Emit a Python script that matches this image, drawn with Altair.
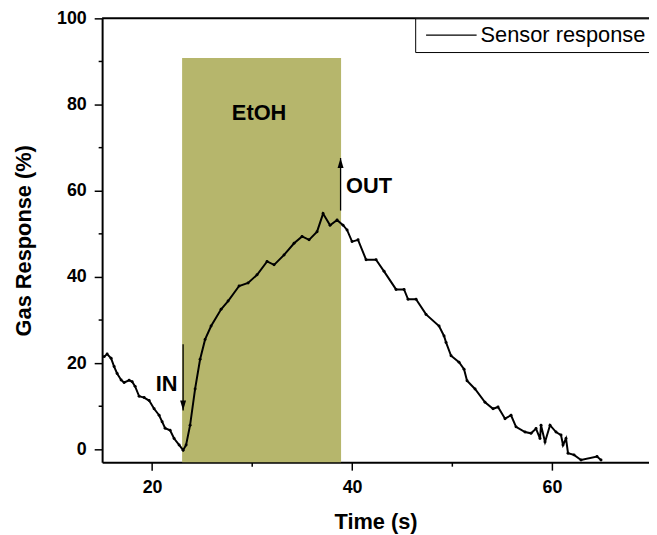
import altair as alt
import pandas as pd

# ---- data ----
time_s = [15.2, 15.5, 15.9, 16.2, 16.5, 16.9, 17.2, 17.7, 18.0, 18.3, 18.7, 19.2, 19.7, 20.2,
          20.7, 21.0, 21.3, 21.8, 22.2, 22.7, 23.1, 23.4, 23.8, 24.3, 24.8, 25.3, 25.9, 26.9,
          27.6, 28.7, 29.6, 30.5, 31.5, 32.2, 33.2, 34.2, 35.0, 35.7, 36.5, 37.1, 37.8, 38.5,
          39.1, 39.5, 40.0, 40.6, 41.4, 42.4, 43.2, 44.4, 45.2, 45.6, 46.4, 47.4, 48.7, 49.2,
          49.4, 49.9, 50.7, 51.2, 51.5, 52.3, 53.3, 54.1, 54.6, 55.3, 55.9, 56.4, 57.3, 57.9,
          58.4, 58.8, 58.9, 59.3, 59.8, 60.4, 60.9, 61.1, 61.4, 61.6, 62.2, 62.9, 64.5, 64.9]
response = [21.5, 22.1, 21.1, 19.2, 17.6, 16.1, 15.5, 16.0, 15.7, 14.6, 12.3, 12.0, 11.3, 9.4,
            7.9, 6.4, 4.9, 4.4, 2.5, 1.0, -0.2, 1.0, 5.6, 14.0, 20.9, 25.5, 28.6, 32.5,
            34.4, 37.9, 38.6, 40.5, 43.6, 42.8, 45.1, 47.8, 49.4, 48.6, 50.5, 54.7, 52.0, 53.2,
            52.0, 50.9, 48.2, 48.6, 44.0, 44.0, 41.3, 37.1, 37.1, 34.8, 34.8, 31.3, 28.6, 26.3,
            24.8, 21.7, 20.2, 18.6, 15.9, 14.0, 10.9, 9.4, 9.8, 7.1, 7.9, 5.2, 4.0, 3.7,
            4.8, 2.5, 5.6, 1.7, 5.6, 4.0, 3.3, 1.0, 2.5, -0.9, -1.3, -2.5, -1.7, -2.5]
series_name = ["Sensor response"]

gas_window = {"start": [23.0], "end": [38.9], "low": [-3.0], "high": [90.8]}
label_text = ["EtOH", "IN", "OUT"]
label_x = [30.7, 22.55, 39.4]
label_y = [78.0, 15.2, 61.1]
label_align = ["center", "right", "left"]
arrow_name = ["IN", "OUT"]
arrow_x = [23.1, 38.85]
arrow_tail = [24.4, 55.4]
arrow_tip = [9.0, 67.6]

x_domain = [15, 69.7]
y_domain = [-3, 100]
x_ticks = [20, 30, 40, 50, 60]
y_ticks = [0, 10, 20, 30, 40, 50, 60, 70, 80, 90, 100]

FONT = "Liberation Sans"

xs = alt.Scale(domain=x_domain, nice=False, zero=False)
ys = alt.Scale(domain=y_domain, nice=False, zero=False)

major = "datum.value % 20 === 0"
x_axis = alt.Axis(values=x_ticks, title="Time (s)",
                  labelExpr=f"{major} ? datum.label : ''",
                  tickSize={"condition": {"test": major, "value": 8}, "value": 4},
                  grid=False, labelFlush=False, labelOverlap=False)
y_axis = alt.Axis(values=y_ticks, title="Gas Response (%)",
                  labelExpr=f"{major} ? datum.label : ''",
                  tickSize={"condition": {"test": major, "value": 8}, "value": 4},
                  grid=False, labelFlush=False, labelOverlap=False)

curve = pd.DataFrame({"t": time_s, "r": response, "series": series_name * len(time_s)})
win = pd.DataFrame(gas_window)
labs = pd.DataFrame({"text": label_text, "x": label_x, "y": label_y, "align": label_align})
arr = pd.DataFrame({"name": arrow_name, "x": arrow_x, "tail": arrow_tail, "tip": arrow_tip})
top = pd.DataFrame({"y": [y_domain[1]]})


def X(f):
    return alt.X(f, scale=xs, axis=x_axis)


def Y(f):
    return alt.Y(f, scale=ys, axis=y_axis)


rect = alt.Chart(win).mark_rect(color="#b6b66c").encode(
    x=X("start:Q"), x2="end:Q", y=Y("low:Q"), y2="high:Q"
)

top_border = alt.Chart(top).mark_rule(color="black", strokeWidth=2).encode(y=Y("y:Q"))

line = alt.Chart(curve).mark_line(strokeWidth=2, clip=True).encode(
    x=X("t:Q"),
    y=Y("r:Q"),
    color=alt.Color("series:N", scale=alt.Scale(range=["black"]),
                    legend=alt.Legend(title=None, orient="none", legendX=316, legendY=0,
                                      padding=6, strokeColor="black", fillColor="white",
                                      symbolType="M-1,0L7.5,0", symbolSize=144,
                                      symbolStrokeWidth=1.3, symbolStrokeColor="black",
                                      symbolFillColor="transparent",
                                      labelFont=FONT, labelFontSize=22, labelColor="black",
                                      labelLimit=400, labelOffset=38, cornerRadius=0)),
)

dots = alt.Chart(curve).mark_point(filled=True, size=9, color="black", opacity=1, clip=True).encode(
    x=X("t:Q"), y=Y("r:Q")
)

shafts = alt.Chart(arr).mark_rule(color="black", strokeWidth=1.3).encode(
    x=X("x:Q"), y=Y("tail:Q"), y2="tip:Q"
)

head_in = alt.Chart(arr[arr["name"] == "IN"]).mark_point(
    shape="M-0.6,-2L0.6,-2L0,0Z", size=100, filled=True, color="black", opacity=1
).encode(x=X("x:Q"), y=Y("tip:Q"))

head_out = alt.Chart(arr[arr["name"] == "OUT"]).mark_point(
    shape="M-0.6,2L0.6,2L0,0Z", size=100, filled=True, color="black", opacity=1
).encode(x=X("x:Q"), y=Y("tip:Q"))


def text_layer(al):
    return alt.Chart(labs[labs["align"] == al]).mark_text(
        font=FONT, fontSize=22, fontWeight="bold", color="black", baseline="middle", align=al
    ).encode(x=X("x:Q"), y=Y("y:Q"), text="text:N")


chart = alt.layer(
    rect, top_border, line, dots, shafts, head_in, head_out,
    text_layer("center"), text_layer("right"), text_layer("left")
).properties(
    width=552, height=448,
    autosize=alt.AutoSizeParams(type="none"),
    padding={"left": 95, "top": 8, "right": 0, "bottom": 70},
).configure_view(stroke=None).configure_axis(
    domainColor="black", domainWidth=2, tickColor="black", tickWidth=1.5,
    labelFont=FONT, labelFontSize=18, labelFontWeight="bold", labelColor="black",
    titleFont=FONT, titleFontSize=22, titleFontWeight="bold", titleColor="black",
).configure_axisY(titlePadding=21, labelPadding=8).configure_axisX(titlePadding=15, labelPadding=9)

chart.save("out.html", embed_options={"renderer": "svg", "actions": False})
